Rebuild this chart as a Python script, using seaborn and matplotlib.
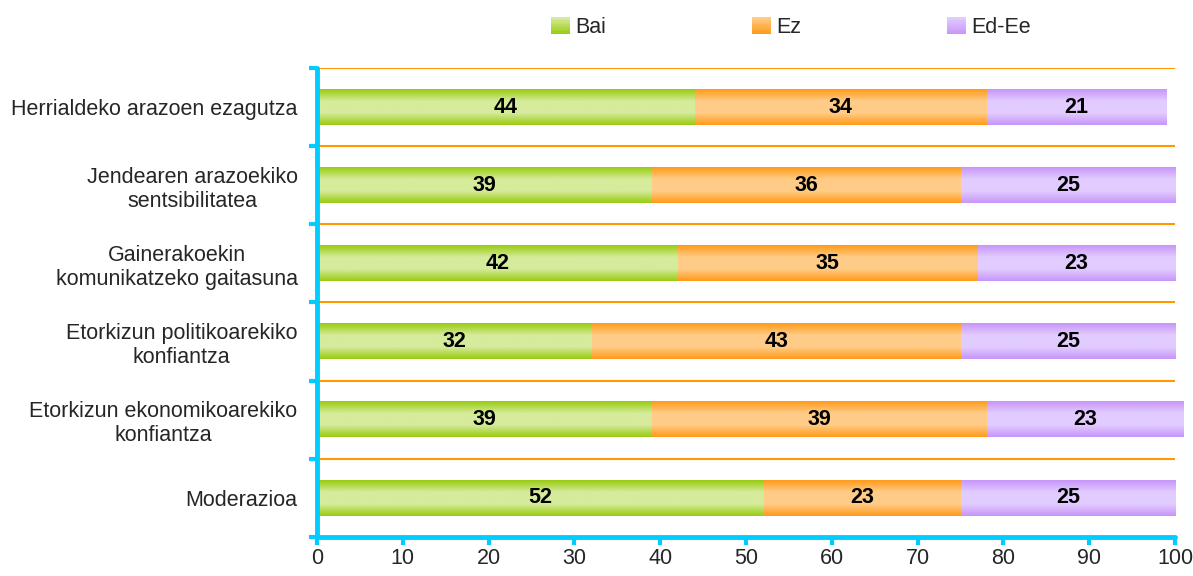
import numpy as np
import pandas as pd
import matplotlib
matplotlib.use("Agg")
import matplotlib.pyplot as plt
from matplotlib.colors import LinearSegmentedColormap, to_rgb
from matplotlib.patches import Patch, Rectangle
from matplotlib.legend_handler import HandlerBase
import seaborn as sns

categories = ["Herrialdeko arazoen ezagutza",
              "Jendearen arazoekiko\nsentsibilitatea",
              "Gainerakoekin\nkomunikatzeko gaitasuna",
              "Etorkizun politikoarekiko\nkonfiantza",
              "Etorkizun ekonomikoarekiko\nkonfiantza",
              "Moderazioa"]
bai = [44, 39, 42, 32, 39, 52]
ez = [34, 36, 35, 43, 39, 23]
eded = [21, 25, 23, 25, 23, 25]
series_names = ["Bai", "Ez", "Ed-Ee"]
x_ticks = list(range(0, 101, 10))

edge_cols = ["#99cc11", "#ff9a1a", "#c896fa"]
mid_cols = ["#d6eb9c", "#ffcc88", "#e2ccff"]

sns.set_style("white")
plt.rcParams["font.family"] = ["Liberation Sans", "DejaVu Sans"]
FS = 15.5

df = pd.DataFrame({"cat": categories, "Bai": bai, "Ez": ez, "Ed-Ee": eded})
df["c1"] = df["Bai"]
df["c2"] = df["Bai"] + df["Ez"]
df["c3"] = df["c2"] + df["Ed-Ee"]

fig = plt.figure(figsize=(11.93, 5.76), dpi=100)
ax = fig.add_axes([0.2657, 0.0677, 0.985 - 0.2657, 0.882 - 0.0677])

layers = [("c3", 2), ("c2", 1), ("c1", 0)]
grad = np.linspace(0, 1, 64).reshape(-1, 1)
for li, (col, ci) in enumerate(layers):
    n0 = len(ax.patches)
    sns.barplot(data=df, x=col, y="cat", orient="y", ax=ax, color=edge_cols[ci],
                width=0.45, saturation=1, linewidth=0)
    new = ax.patches[n0:]
    cmap = LinearSegmentedColormap.from_list("g%d" % ci,
                                             [edge_cols[ci], mid_cols[ci], mid_cols[ci], edge_cols[ci]])
    for p in new:
        p.set_clip_on(False)
        p.set_zorder(2 + li)
        x0, y0 = p.get_x(), p.get_y()
        w, h = p.get_width(), p.get_height()
        im = ax.imshow(grad, cmap=cmap, aspect="auto", extent=[x0, x0 + w, y0 + h, y0],
                       interpolation="bicubic", zorder=2.5 + li)
        im.set_clip_on(False)

# value labels
for i in range(len(categories)):
    segs = [(0, bai[i]), (bai[i], ez[i]), (bai[i] + ez[i], eded[i])]
    for left, v in segs:
        ax.text(left + v / 2, i, str(v), ha="center", va="center", fontsize=FS,
                fontweight="bold", color="black", zorder=10)

ax.set_xlim(0, 100)
ax.set_ylim(len(categories) - 0.5, -0.5)
ax.set_xticks(x_ticks)
ax.set_xticklabels([str(t) for t in x_ticks])
ax.set_yticks(range(len(categories)))
ax.set_yticklabels(categories)
ax.set_yticks(np.arange(-0.5, len(categories) - 0.5 + 0.01, 1), minor=True)
ax.set_xlabel("")
ax.set_ylabel("")

ax.grid(False)
ax.yaxis.grid(True, which="minor", color="#ff9900", linewidth=1.5, zorder=1)
ax.set_axisbelow(True)

cyan = "#00ccff"
for s in ["top", "right"]:
    ax.spines[s].set_visible(False)
for s in ["left", "bottom"]:
    ax.spines[s].set_color(cyan)
    ax.spines[s].set_linewidth(3.5)
    ax.spines[s].set_capstyle("round")
    ax.spines[s].set_zorder(6)

ax.tick_params(axis="y", which="major", left=False, length=0, pad=14, labelsize=FS)
ax.tick_params(axis="y", which="minor", left=True, length=6, width=3, color=cyan, direction="out")
ax.tick_params(axis="x", which="major", bottom=True, length=6, width=3, color=cyan,
               direction="out", pad=2, labelsize=FS)
ax.tick_params(axis="x", which="minor", bottom=False, length=0)
for t in ax.get_yticklabels():
    t.set_multialignment("center")
for tl in ax.yaxis.get_minorticklines() + ax.xaxis.get_majorticklines():
    tl.set_solid_capstyle("round")
    tl.set_dash_capstyle("round")


class GradHandler(HandlerBase):
    def __init__(self, top, bottom, n=12):
        super().__init__()
        self.top = np.array(to_rgb(top))
        self.bottom = np.array(to_rgb(bottom))
        self.n = n

    def create_artists(self, legend, orig_handle, xdescent, ydescent, width, height,
                       fontsize, trans):
        arts = []
        for k in range(self.n):
            f = k / (self.n - 1)
            c = self.bottom * f + self.top * (1 - f)
            yk = -ydescent + height * (1 - (k + 1) / self.n)
            arts.append(Rectangle((-xdescent, yk), width, height / self.n + 0.01,
                                  facecolor=c, edgecolor="none", transform=trans))
        return arts


handles = [Patch(facecolor=mid_cols[i]) for i in range(3)]
hmap = {handles[i]: GradHandler(mid_cols[i], edge_cols[i]) for i in range(3)}
fig.legend(handles, series_names, handler_map=hmap, loc="center",
           bbox_to_anchor=(0.663, 0.952), ncol=3,
           frameon=False, fontsize=FS, handlelength=0.85, handleheight=0.85,
           handletextpad=0.25, columnspacing=6.8)

fig.savefig("out.png", dpi=100)
